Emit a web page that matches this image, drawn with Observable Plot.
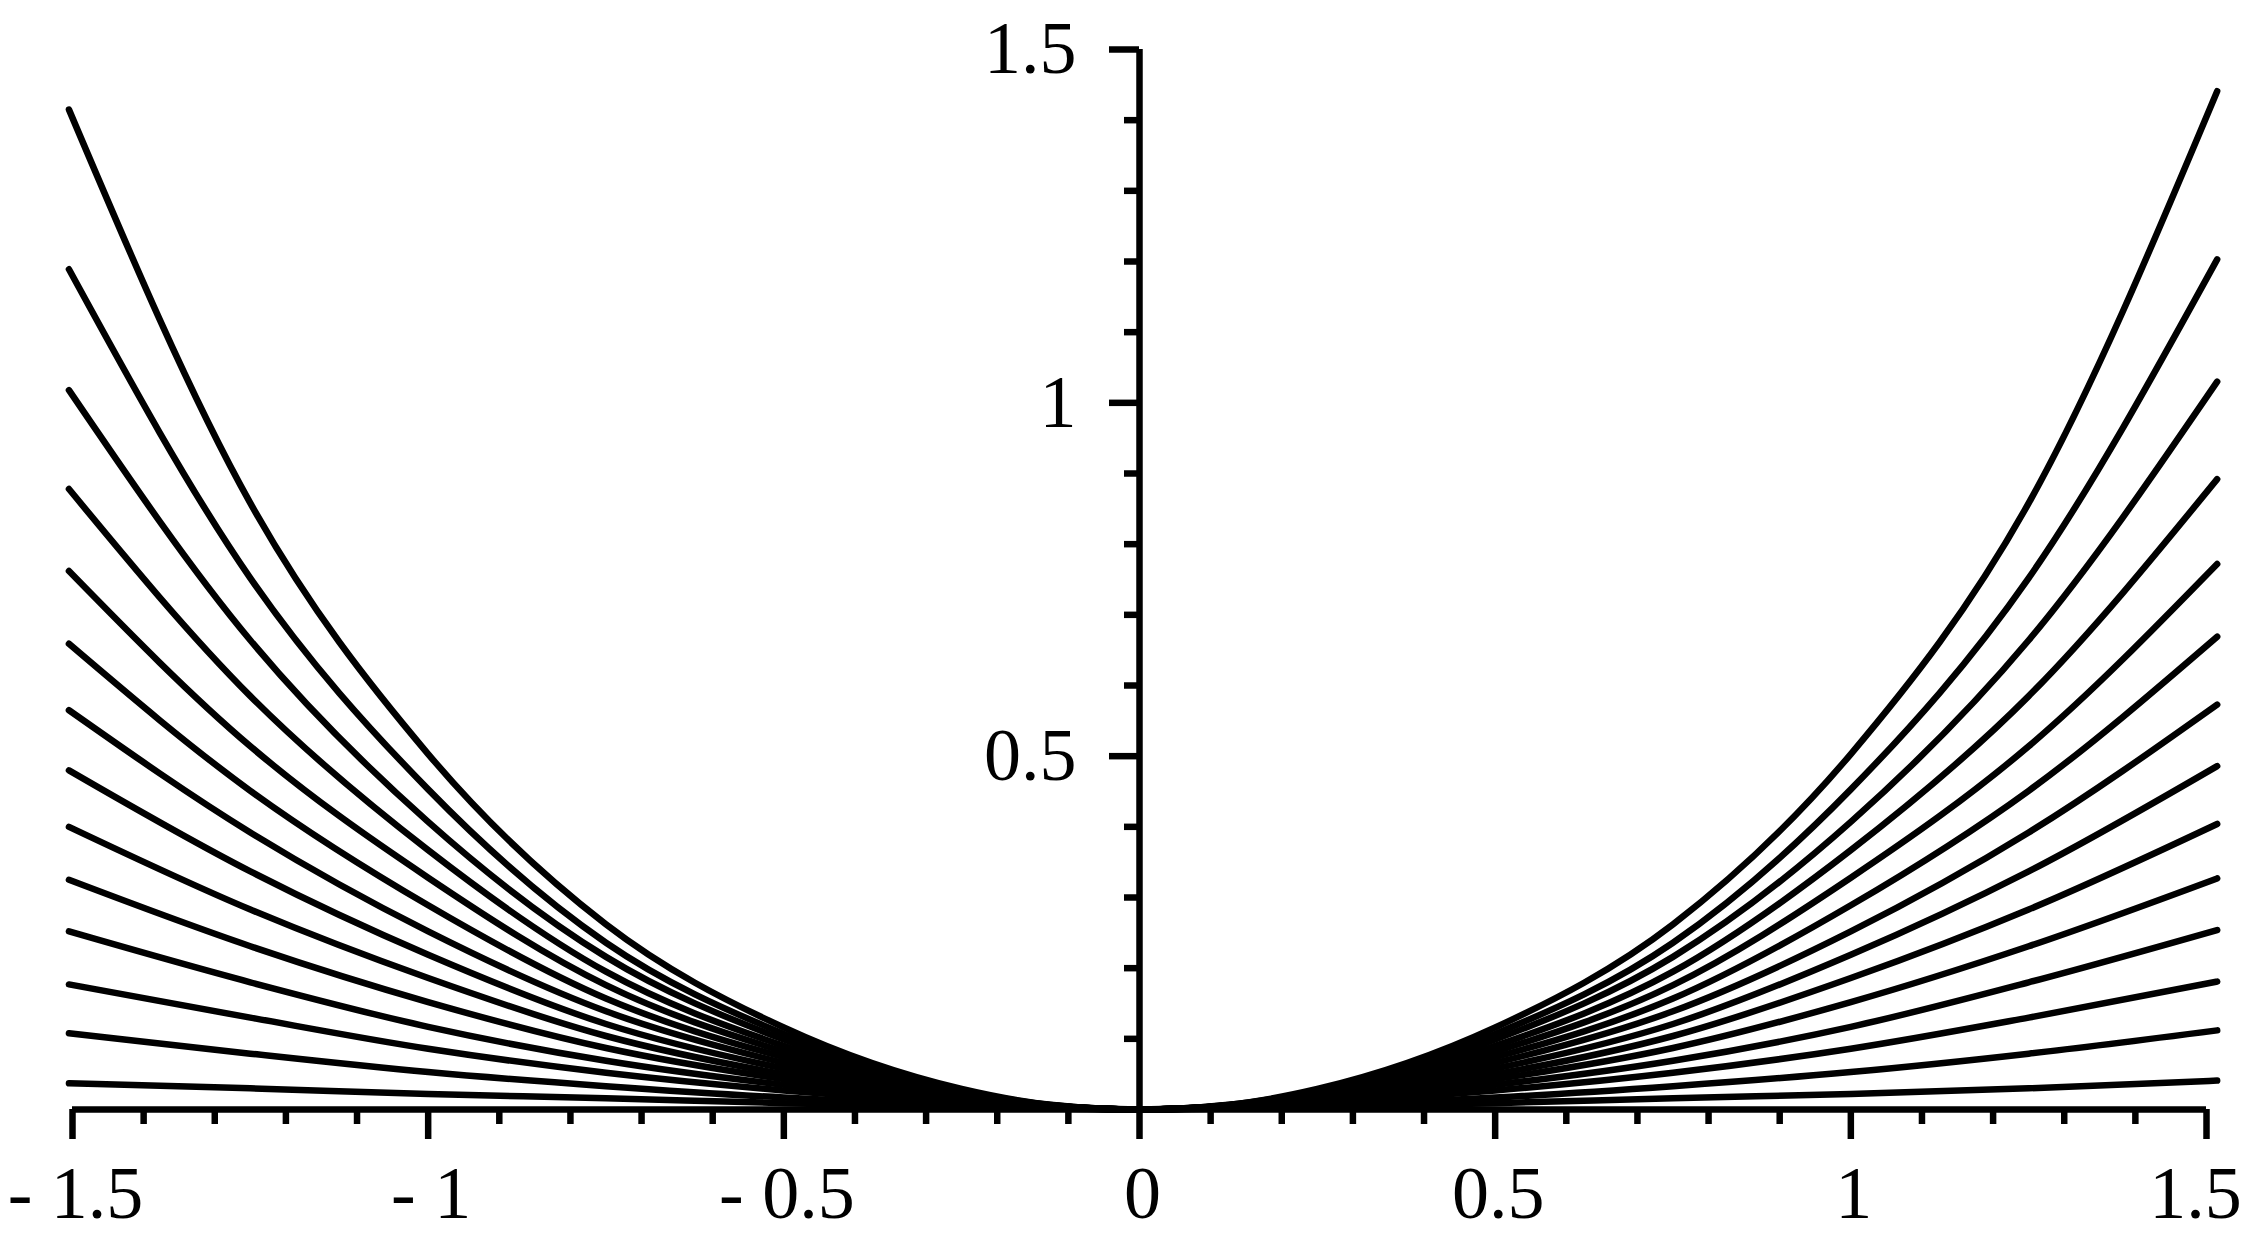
<!DOCTYPE html>
<html>
<head>
<meta charset="utf-8">
<script src="https://cdn.jsdelivr.net/npm/d3@7"></script>
<script src="https://cdn.jsdelivr.net/npm/@observablehq/plot@0.6"></script>
<style>
  html, body { margin: 0; padding: 0; background: #fff; }
  #chart svg { display: block; }
</style>
</head>
<body>
<div id="chart"></div>
<script>
// x positions (right half) at which curve values were read; mirrored for the left half
const xRight = [0, 0.125, 0.25, 0.5, 0.75, 1, 1.25, 1.515];
const xLeftEnd = -1.505;

// curve values (top to bottom) at xRight
const curve1  = [0, 0.0066, 0.029,  0.116, 0.262, 0.503, 0.858, 1.441];
const curve2  = [0, 0.0063, 0.027,  0.107, 0.236, 0.453, 0.752, 1.203];
const curve3  = [0, 0.0061, 0.025,  0.099, 0.216, 0.407, 0.664, 1.030];
const curve4  = [0, 0.0058, 0.023,  0.090, 0.195, 0.367, 0.585, 0.892];
const curve5  = [0, 0.0056, 0.022,  0.082, 0.176, 0.328, 0.514, 0.772];
const curve6  = [0, 0.0054, 0.020,  0.074, 0.157, 0.289, 0.451, 0.669];
const curve7  = [0, 0.0050, 0.018,  0.066, 0.139, 0.252, 0.392, 0.573];
const curve8  = [0, 0.0047, 0.0166, 0.058, 0.121, 0.219, 0.337, 0.486];
const curve9  = [0, 0.0043, 0.0147, 0.050, 0.104, 0.186, 0.283, 0.404];
const curve10 = [0, 0.0039, 0.013,  0.043, 0.087, 0.152, 0.231, 0.327];
const curve11 = [0, 0.0036, 0.0113, 0.035, 0.069, 0.117, 0.180, 0.254];
const curve12 = [0, 0.0032, 0.0093, 0.027, 0.052, 0.086, 0.130, 0.181];
const curve13 = [0, 0.0023, 0.0063, 0.017, 0.033, 0.053, 0.079, 0.112];
const curve14 = [0, 0.0014, 0.0036, 0.009, 0.016, 0.022, 0.030, 0.041];
// values at the left end of each curve
const leftEnds = [1.415, 1.189, 1.018, 0.878, 0.762, 0.659, 0.565, 0.480, 0.400, 0.325, 0.252, 0.177, 0.108, 0.037];

// axes
const xDomain = [-1.5, 1.5];
const yDomain = [0, 1.5];
const xMajor = [-1.5, -1, -0.5, 0, 0.5, 1, 1.5];
const xMinor = [-1.4,-1.3,-1.2,-1.1,-0.9,-0.8,-0.7,-0.6,-0.4,-0.3,-0.2,-0.1,0.1,0.2,0.3,0.4,0.6,0.7,0.8,0.9,1.1,1.2,1.3,1.4];
const yMajor = [0.5, 1, 1.5];
const yMinor = [0.1,0.2,0.3,0.4,0.6,0.7,0.8,0.9,1.1,1.2,1.3,1.4];

const curves = [curve1, curve2, curve3, curve4, curve5, curve6, curve7, curve8, curve9, curve10, curve11, curve12, curve13, curve14];
const rows = [];
curves.forEach((vals, i) => {
  rows.push({curve: i, x: xLeftEnd, y: leftEnds[i]});
  for (let k = vals.length - 2; k >= 1; k--) rows.push({curve: i, x: -xRight[k], y: vals[k]});
  for (let k = 0; k < vals.length; k++) rows.push({curve: i, x: xRight[k], y: vals[k]});
});

const fmt = d => d < 0 ? "- " + String(Math.abs(d)) : String(d);
const font = "Liberation Serif, Times New Roman, serif";
const sw = 6.5;
const labelStyle = {tickSize: 0, tickPadding: 56, tickFormat: fmt, fontSize: 74, fontFamily: font, label: null};

const chart = Plot.plot({
  width: 2253,
  height: 1254,
  marginLeft: 72,
  marginRight: 47,
  marginTop: 49,
  marginBottom: 145,
  style: {background: "#fff", color: "#000", fontFamily: font},
  x: {domain: xDomain},
  y: {domain: yDomain},
  marks: [
    Plot.line(rows, {x: "x", y: "y", z: "curve", stroke: "#000", strokeWidth: sw, curve: "monotone-x"}),
    Plot.ruleY([0], {stroke: "#000", strokeWidth: sw}),
    Plot.ruleX([0], {stroke: "#000", strokeWidth: sw}),
    Plot.axisX(xMinor, {tickSize: 15, strokeWidth: sw, tickFormat: () => "", label: null}),
    Plot.axisX(xMajor, {tickSize: 30, strokeWidth: sw, tickFormat: () => "", label: null}),
    Plot.axisX(xMajor.filter(d => d < 1.5), {...labelStyle, dx: 3}),
    Plot.axisX(xMajor.filter(d => d === 1.5), {...labelStyle, dx: -11}),
    Plot.axisY(yMinor, {x: 0, anchor: "left", tickSize: 15, strokeWidth: sw, tickFormat: () => "", label: null}),
    Plot.axisY(yMajor, {x: 0, anchor: "left", tickSize: 30, strokeWidth: sw, tickPadding: 33, tickFormat: fmt, fontSize: 74, fontFamily: font, label: null})
  ]
});
document.getElementById("chart").appendChild(chart);
</script>
</body>
</html>
